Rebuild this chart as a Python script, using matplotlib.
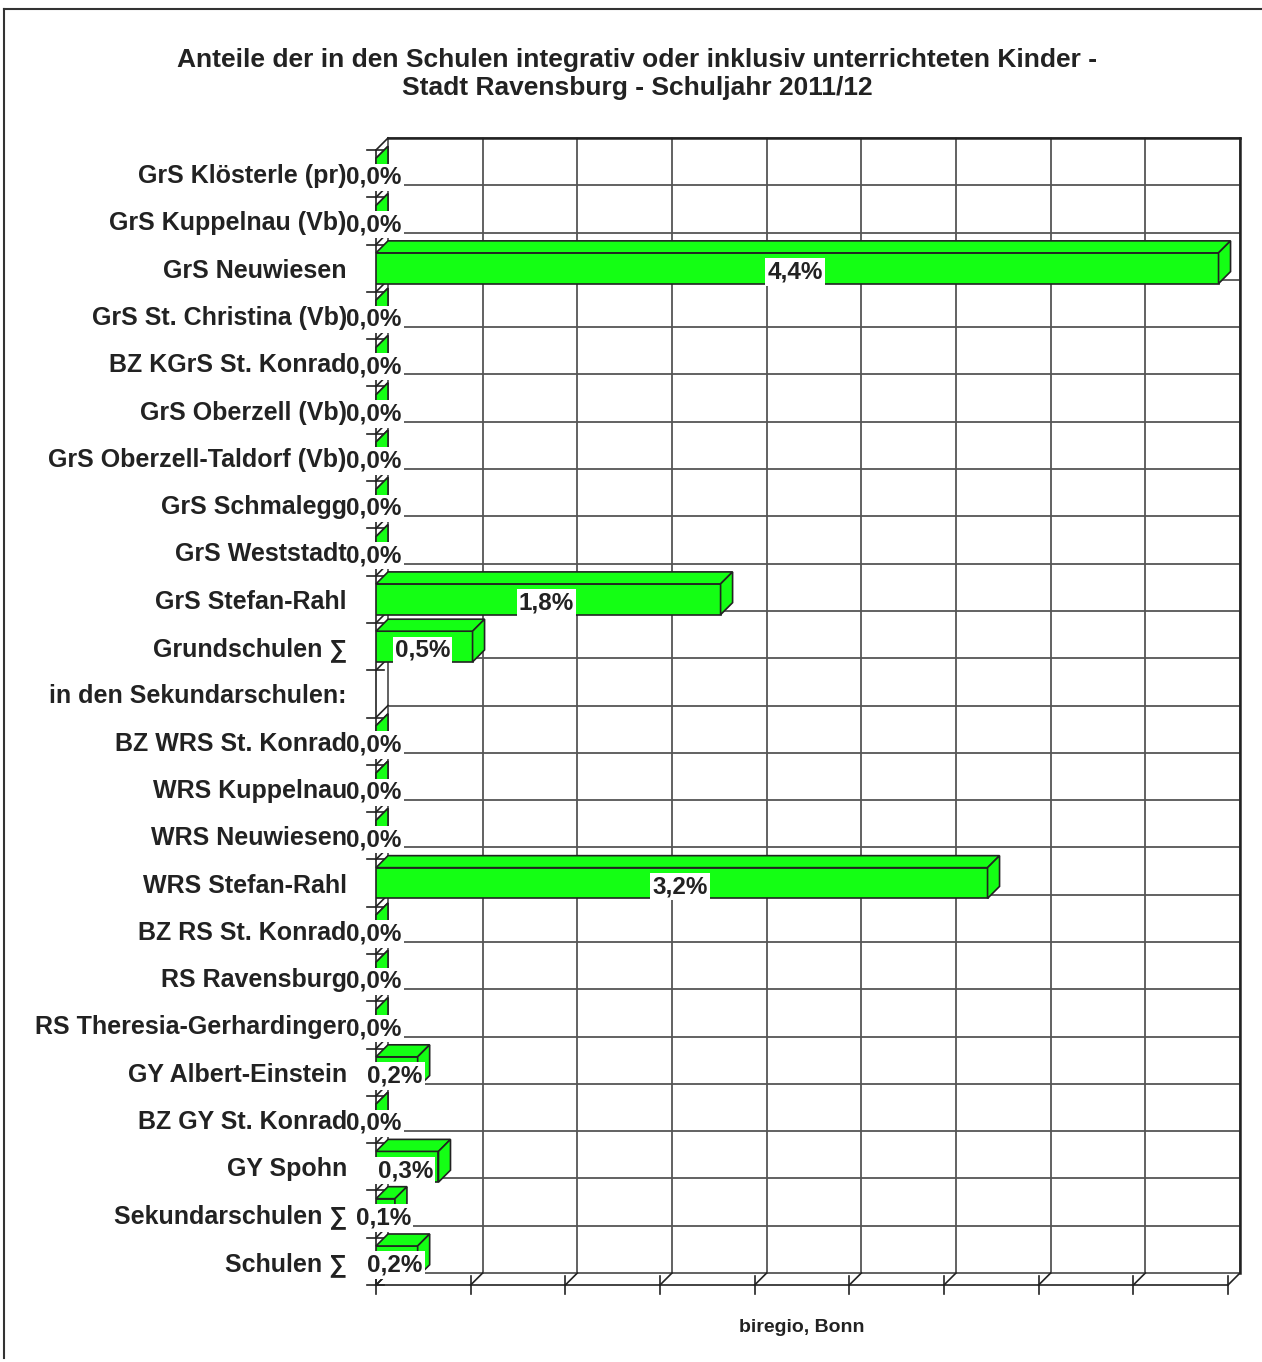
import numpy as np
import matplotlib
matplotlib.use("Agg")
import matplotlib.pyplot as plt
from matplotlib.patches import Polygon
from matplotlib.lines import Line2D

plt.rcParams['font.family'] = ['Liberation Sans', 'DejaVu Sans']

schulen = ["GrS Klösterle (pr)", "GrS Kuppelnau (Vb)", "GrS Neuwiesen",
           "GrS St. Christina (Vb)", "BZ KGrS St. Konrad", "GrS Oberzell (Vb)",
           "GrS Oberzell-Taldorf (Vb)", "GrS Schmalegg", "GrS Weststadt",
           "GrS Stefan-Rahl", "Grundschulen ∑", "in den Sekundarschulen:",
           "BZ WRS St. Konrad", "WRS Kuppelnau", "WRS Neuwiesen",
           "WRS Stefan-Rahl", "BZ RS St. Konrad", "RS Ravensburg",
           "RS Theresia-Gerhardinger", "GY Albert-Einstein", "BZ GY St. Konrad",
           "GY Spohn", "Sekundarschulen ∑", "Schulen ∑"]
# Anteil in Prozent (None = keine Angabe)
anteile = [0.0, 0.0, 4.45, 0.0, 0.0, 0.0, 0.0, 0.0, 0.0, 1.82, 0.51, None,
           0.0, 0.0, 0.0, 3.23, 0.0, 0.0, 0.0, 0.22, 0.0, 0.33, 0.10, 0.22]
beschriftung = ["0,0%", "0,0%", "4,4%", "0,0%", "0,0%", "0,0%", "0,0%", "0,0%",
                "0,0%", "1,8%", "0,5%", "", "0,0%", "0,0%", "0,0%", "3,2%",
                "0,0%", "0,0%", "0,0%", "0,2%", "0,0%", "0,3%", "0,1%", "0,2%"]
x_ticks = np.arange(0, 4.51, 0.5)

W, H = 1262, 1362
fig = plt.figure(figsize=(W / 100, H / 100), dpi=100)
# Frontflaeche des Diagramms in Pixeln
links, rechts, oben, unten = 376, 1228, 150, 1285
ax = fig.add_axes([links / W, 1 - unten / H, (rechts - links) / W, (unten - oben) / H])
n = len(schulen)
ax.set_xlim(0, 4.5)
ax.set_ylim(n - 0.5, -0.5)

# Tiefe (3D-Effekt) in Datenkoordinaten
dx = 12 / (rechts - links) * 4.5
dy = 12 / ((unten - oben) / n)
gruen = "#14ff14"
kante = "#222222"
gitter = "#555555"

# Rueckwand: Gitter
for xt in x_ticks:
    ax.add_line(Line2D([xt + dx, xt + dx], [-0.5 - dy, n - 0.5 - dy], color=gitter, lw=1.3, zorder=1, clip_on=False))
for k in range(n + 1):
    ax.add_line(Line2D([dx, 4.5 + dx], [k - 0.5 - dy, k - 0.5 - dy], color=gitter, lw=1.3, zorder=1, clip_on=False))
ax.add_line(Line2D([dx, 4.5 + dx], [-0.5 - dy, -0.5 - dy], color=kante, lw=1.8, zorder=1, clip_on=False))
ax.add_line(Line2D([4.5 + dx, 4.5 + dx], [-0.5 - dy, n - 0.5 - dy], color=kante, lw=1.8, zorder=1, clip_on=False))

# linke Wand und Boden
ax.add_line(Line2D([0, 0], [-0.5, n - 0.5], color=kante, lw=1.2, zorder=2, clip_on=False))
for k in range(n + 1):
    y = k - 0.5
    ax.add_line(Line2D([-0.05, dx * 0.7], [y, y], color=kante, lw=1.2, zorder=2, clip_on=False))
    ax.add_line(Line2D([0, dx], [y, y - dy], color=kante, lw=1.2, zorder=2, clip_on=False))
ax.add_line(Line2D([0, 4.5], [n - 0.5, n - 0.5], color=kante, lw=1.2, zorder=2, clip_on=False))
for xt in x_ticks:
    ax.add_line(Line2D([xt, xt], [n - 0.5 - dy * 0.75, n - 0.5 + 0.2], color=kante, lw=1.2, zorder=2, clip_on=False))
    ax.add_line(Line2D([xt, xt + dx], [n - 0.5, n - 0.5 - dy], color=kante, lw=1.2, zorder=2, clip_on=False))

# Balken
hoehe = 0.65
for i, v in enumerate(anteile):
    if v is None:
        continue
    y0, y1 = i - hoehe / 2, i + hoehe / 2
    ax.barh(i, v, height=hoehe, color=gruen, edgecolor=kante, linewidth=1.2, zorder=3)
    oben_f = [(0, y0), (dx, y0 - dy), (v + dx, y0 - dy), (v, y0)]
    seite = [(v, y0), (v + dx, y0 - dy), (v + dx, y1 - dy), (v, y1)]
    for poly in (oben_f, seite):
        ax.add_patch(Polygon(poly, closed=True, facecolor=gruen, edgecolor=kante, lw=1.2, zorder=3, clip_on=False))
    ax.text(v / 2 - 0.01, i + 0.08, beschriftung[i], ha="center", va="center", fontsize=17.5, fontweight="bold",
            color="#222222", zorder=5, bbox=dict(facecolor="white", edgecolor="none", pad=1.5))

ax.set_yticks(range(n), schulen)
ax.tick_params(axis="y", length=0, pad=21, labelsize=18, labelcolor="#222222")
for lbl in ax.get_yticklabels():
    lbl.set_fontweight("bold")
ax.yaxis.set_zorder(10)
ax.set_xticks([])
for s in ax.spines.values():
    s.set_visible(False)
ax.patch.set_visible(False)

fig.text(637 / W, 1 - 74 / H,
         "Anteile der in den Schulen integrativ oder inklusiv unterrichteten Kinder -\nStadt Ravensburg - Schuljahr 2011/12",
         ha="center", va="center", fontsize=19, fontweight="bold", color="#222222", linespacing=1.2)
fig.text(802 / W, 1 - 1327 / H, "biregio, Bonn", ha="center", va="center", fontsize=14,
         fontweight="bold", color="#222222")

# Rahmen
fig.add_artist(Line2D([4 / W, 4 / W], [1 - 9 / H, 1 - 1358 / H], color="#333333", lw=1.5, transform=fig.transFigure))
fig.add_artist(Line2D([4 / W, 1], [1 - 9 / H, 1 - 9 / H], color="#333333", lw=1.5, transform=fig.transFigure))

fig.savefig("out.png", dpi=100)
